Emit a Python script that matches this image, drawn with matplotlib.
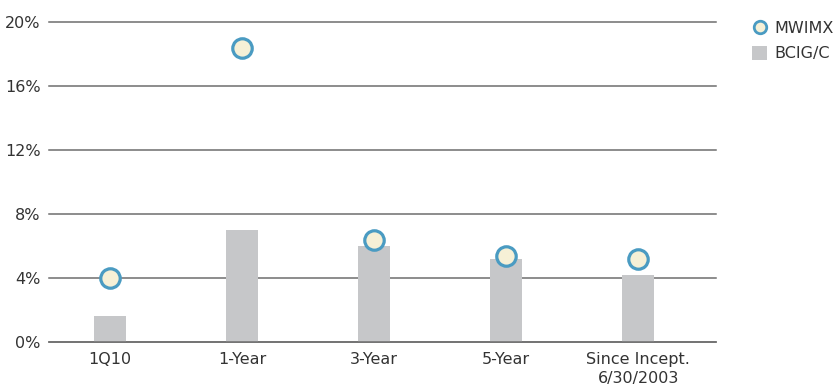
import numpy as np
import matplotlib.pyplot as plt
from matplotlib.lines import Line2D
from matplotlib.patches import Patch

categories = ['1Q10', '1-Year', '3-Year', '5-Year', 'Since Incept.\n6/30/2003']
fund_returns = [4.0, 18.4, 6.4, 5.4, 5.2]       # MWIMX
index_returns = [1.6, 7.0, 6.0, 5.2, 4.2]       # BCIG/C
y_ticks = [0, 4, 8, 12, 16, 20]

text_color = '#333333'
grid_color = '#6e6e6e'
bar_color = '#c6c7c9'
ring_color = '#4a9bc2'
fill_color = '#f6f0d6'

plt.rcParams['font.family'] = 'DejaVu Sans'
plt.rcParams['font.size'] = 11.5

fig = plt.figure(figsize=(8.4, 3.88), dpi=100)
ax = fig.add_axes([49 / 840, 46 / 388, 667 / 840, 320 / 388])

x = np.arange(len(categories))
ax.bar(x, index_returns, width=0.242, color=bar_color, zorder=2)
ax.plot(x, fund_returns, 'o', ms=14, mfc=fill_color, mec=ring_color, mew=2.3, zorder=3)

ax.set_xlim(-0.462, 4.59)
ax.set_ylim(0, 20)
ax.set_yticks(y_ticks)
ax.set_yticklabels([f'{t}%' for t in y_ticks])
ax.set_xticks(x)
ax.set_xticklabels(categories, linespacing=1.35)
ax.tick_params(length=0, colors=text_color)
ax.tick_params(axis='y', pad=6)
ax.tick_params(axis='x', pad=7)

ax.yaxis.grid(True, color=grid_color, lw=1.1, zorder=1)
for gl in ax.get_ygridlines():
    gl.set_clip_on(False)
ax.set_axisbelow(True)
for side in ['top', 'right', 'left']:
    ax.spines[side].set_visible(False)
ax.spines['bottom'].set_color(grid_color)
ax.spines['bottom'].set_linewidth(1.1)

handles = [
    Line2D([], [], ls='none', marker='o', ms=9, mfc=fill_color, mec=ring_color, mew=2),
    Patch(facecolor=bar_color, edgecolor='none'),
]
leg = fig.legend(handles, ['MWIMX', 'BCIG/C'], loc='upper left',
                 bbox_to_anchor=(752 / 840, 1 - 21 / 388), frameon=False,
                 handlelength=0.95, handleheight=0.95, handletextpad=0.45,
                 labelspacing=0.6, borderaxespad=0, borderpad=0)
for t in leg.get_texts():
    t.set_color(text_color)

fig.savefig('out.png', dpi=100)
